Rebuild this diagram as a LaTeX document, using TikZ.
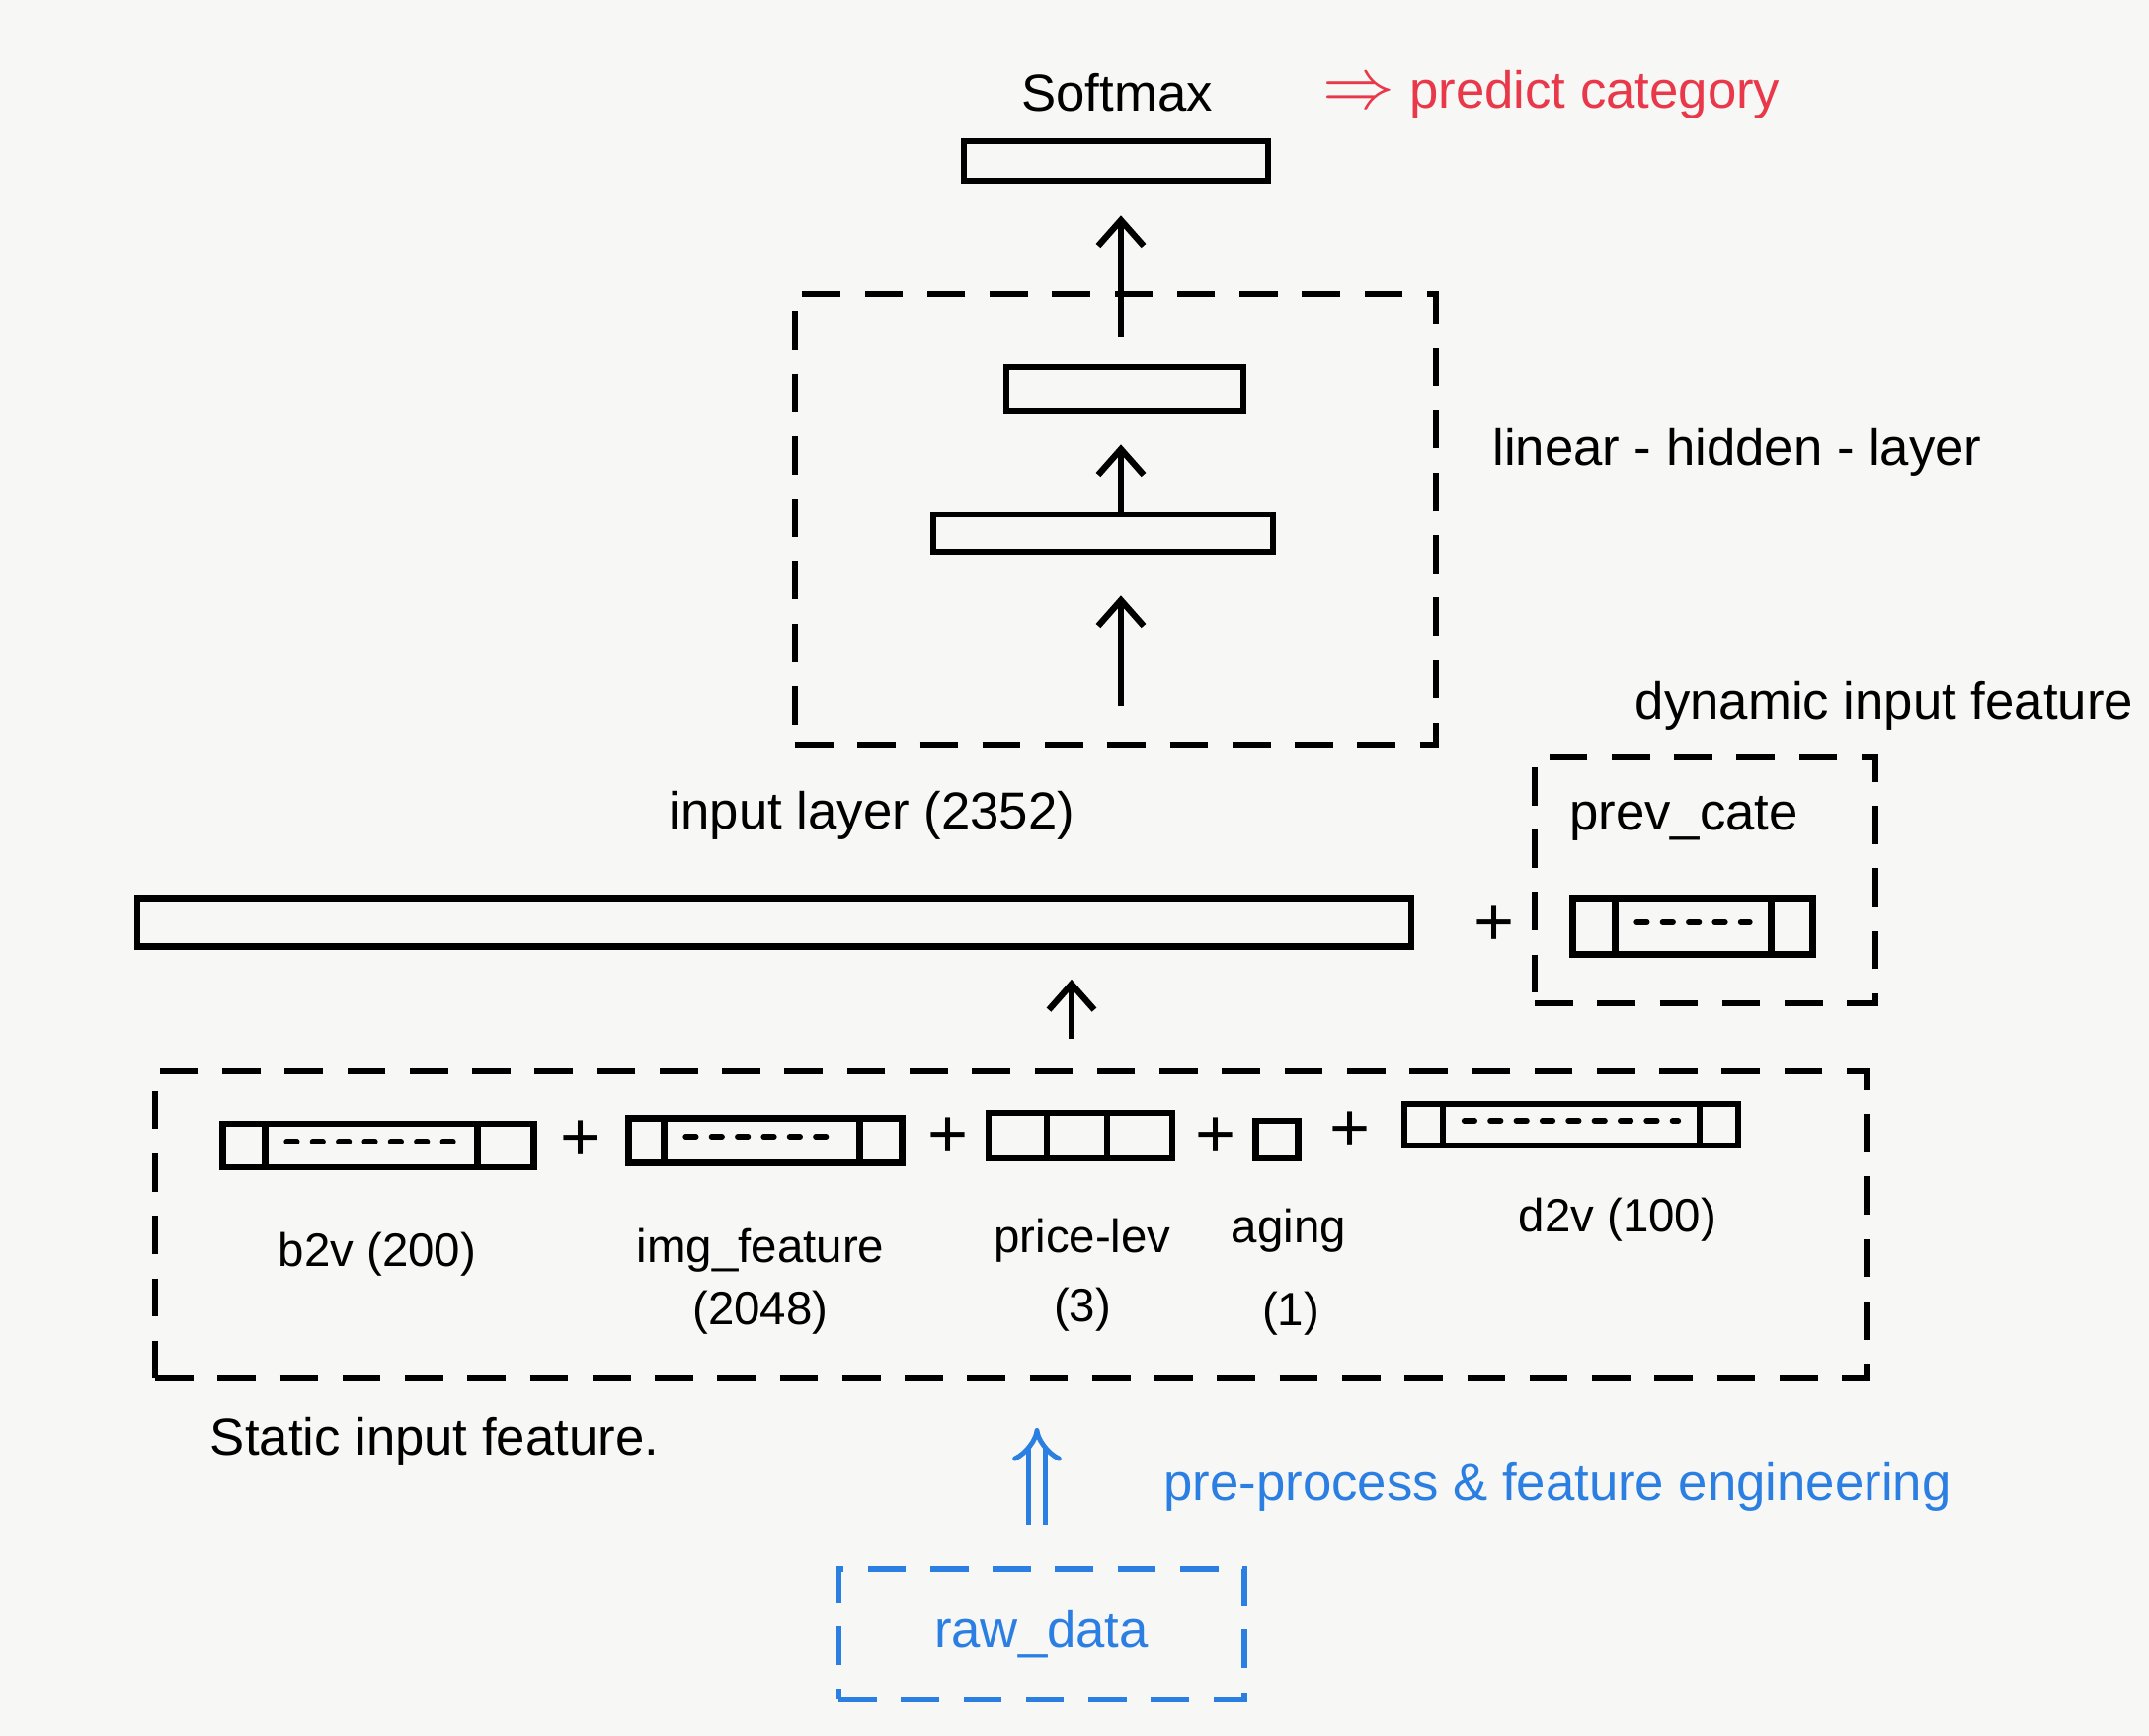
\documentclass[tikz,border=0pt]{standalone}
\usepackage{fontspec}
\setmainfont{Liberation Sans}
\usetikzlibrary{arrows.meta,positioning}
\definecolor{paper}{HTML}{F7F7F5}
\definecolor{penRed}{HTML}{E8384A}
\definecolor{penBlue}{HTML}{2C7FE2}
\tikzset{
myBar/.style={
	draw, rectangle, line width=1.9pt,
	inner sep=0pt
}
% vector with a cell at each end
, myVec/.style 2 args={
	myBar,
	path picture = {
		\draw[line width=1.9pt]
		([xshift=#1]path picture bounding box.north west) -- ([xshift=#1]path picture bounding box.south west)
		([xshift=-#2]path picture bounding box.north east) -- ([xshift=-#2]path picture bounding box.south east);
	}
}
, myVecDots/.style 2 args={
	myVec={#1}{#2},
	append after command={
		([xshift=#1+2.5mm,yshift=0.4mm]\tikzlastnode.west) edge[myDots] ([xshift=-#2-2.5mm,yshift=0.4mm]\tikzlastnode.east)
	}
}
, myGroup/.style={
	draw, rectangle, line width=1.7pt,
	dash pattern=on 11pt off 7pt, inner sep=0pt
}
% links
, myDots/.style={draw, line width=1.6pt, dash pattern=on 3pt off 4.5pt, line cap=round}
, myUp/.style={-{Straight Barb[length=2.6mm,width=4.6mm]}, line width=1.8pt}
, myPrep/.style={penBlue, line width=1.4pt, double=paper, double distance=3.4pt, -{Implies}}
% texts
, myText/.style={font=\fontsize{15}{18}\selectfont, inner sep=0pt}
, mySmall/.style={font=\fontsize{13.5}{16}\selectfont, inner sep=0pt}
, myPlus/.style={font=\fontsize{20}{22}\selectfont, inner sep=0pt}
}
\begin{document}
\begin{tikzpicture}
	% paper
	\fill[paper] (0,0) rectangle (21.76,17.58);
	\useasboundingbox (0,0) rectangle (21.76,17.58);

	% output
	\node[myText] (SoftL) at (11.31,16.64) {Softmax};
	\node[myText, penRed] (Pred) at (15.71,16.62) {{\fontsize{21}{22}\selectfont$\Rightarrow$} predict category};
	\node[myBar, minimum width=3.08cm, minimum height=0.40cm] (Soft) at (11.30,15.95) {};

	% hidden layers
	\node[myGroup, minimum width=6.49cm, minimum height=4.56cm] (HidBox) at (11.295,12.32) {};
	\node[myText] (HidL) at (17.59,13.00) {linear - hidden - layer};
	\node[myBar, minimum width=2.40cm, minimum height=0.44cm] (HidTwo) at (11.39,13.64) {};
	\node[myBar, minimum width=3.44cm, minimum height=0.38cm] (HidOne) at (11.17,12.18) {};
	\coordinate (HidIn) at (11.35,10.43);

	% input layer
	\node[myText] (InpL) at (8.83,9.32) {input layer (2352)};
	\node[myBar, minimum width=12.90cm, minimum height=0.49cm] (Inp) at (7.84,8.24) {};
	\node[myPlus] (PlusDyn) at (15.13,8.21) {+};

	% dynamic input
	\node[myGroup, minimum width=3.45cm, minimum height=2.49cm] (DynBox) at (17.265,8.665) {};
	\node[myText] (DynL) at (19.08,10.43) {dynamic input feature};
	\node[myText] (PrevL) at (17.05,9.29) {prev\_cate};
	\node[myVecDots={4.3mm}{4.2mm}, minimum width=2.43cm, minimum height=0.57cm] (Prev) at (17.14,8.20) {};

	% static input
	\node[myGroup, minimum width=17.33cm, minimum height=3.10cm] (StatBox) at (10.235,5.18) {};
	\node[myText] (StatL) at (4.40,2.98) {Static input feature.};
	\node[myVecDots={4.3mm}{5.7mm}, minimum width=3.15cm, minimum height=0.44cm] (B2v) at (3.83,5.98) {};
	\node[myPlus] (PlusA) at (5.88,6.03) {+};
	\node[myVecDots={3.6mm}{4.3mm}, minimum width=2.77cm, minimum height=0.45cm] (Img) at (7.75,6.03) {};
	\node[myPlus] (PlusB) at (9.60,6.06) {+};
	\node[myVec={5.9mm}{6.6mm}, minimum width=1.86cm, minimum height=0.46cm] (Price) at (10.94,6.08) {};
	\node[myPlus] (PlusC) at (12.31,6.06) {+};
	\node[myBar, minimum width=0.43cm, minimum height=0.38cm] (Aging) at (12.93,6.04) {};
	\node[myPlus] (PlusD) at (13.67,6.12) {+};
	\node[myVecDots={3.9mm}{3.9mm}, minimum width=3.38cm, minimum height=0.42cm] (D2v) at (15.91,6.19) {};

	% labels
	\node[mySmall] (B2vL) at (3.82,4.88) {b2v (200)};
	\node[mySmall] (ImgL) at (7.70,4.92) {img\_feature};
	\node[mySmall] (ImgN) [below=0.18cm of ImgL] {(2048)};
	\node[mySmall] (PriceL) at (10.96,5.02) {price-lev};
	\node[mySmall] (PriceN) [below=0.25cm of PriceL] {(3)};
	\node[mySmall] (AgingL) at (13.05,5.12) {aging};
	\node[mySmall] (AgingN) at (13.07,4.28) {(1)};
	\node[mySmall] (D2vL) at (16.38,5.23) {d2v (100)};

	% raw data
	\node[myGroup, myText, penBlue, minimum width=4.11cm, minimum height=1.32cm] (Raw) at (10.545,1.03) {raw\_data};
	\node[myText, penBlue] (PrepL) at (15.77,2.52) {pre-process \& feature engineering};
	\coordinate (PrepX) at (10.50,2.50);
	\coordinate (InpX) at (10.85,7.30);

	% links
	\draw[myPrep, shorten <=0.42cm, shorten >=0.48cm] (Raw.north -| PrepX) to (StatBox.south -| PrepX);
	\draw[myUp, shorten <=0.30cm, shorten >=0.30cm] (StatBox.north -| InpX) to (Inp.south -| InpX);
	\draw[myUp, shorten >=0.41cm] (HidIn) to (HidIn |- HidOne.south);
	\draw[myUp, shorten >=0.31cm] (HidIn |- HidOne.north) to (HidIn |- HidTwo.south);
	\draw[myUp, shorten <=0.28cm, shorten >=0.32cm] (HidIn |- HidTwo.north) to (HidIn |- Soft.south);
\end{tikzpicture}
\end{document}
